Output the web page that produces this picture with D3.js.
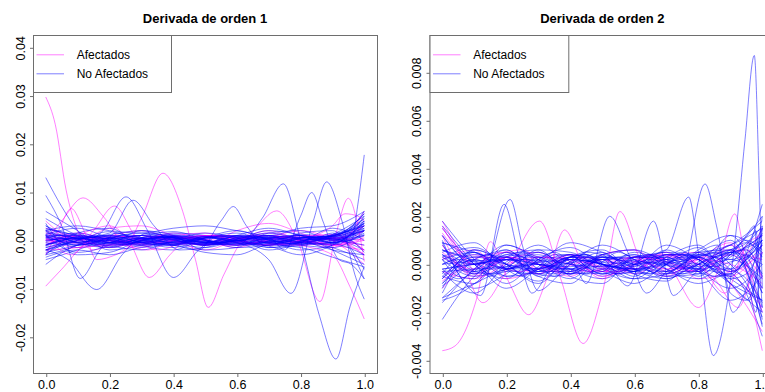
<!DOCTYPE html>
<html>
<head>
<meta charset="utf-8">
<script src="https://cdn.jsdelivr.net/npm/d3@7"></script>
<style>
  body { margin: 0; background: #fff; }
  svg { display: block; font-family: "Liberation Sans", Arial, Helvetica, sans-serif; }
</style>
</head>
<body>
<svg id="chart" width="765" height="392"></svg>
<script>
// ---------------------------------------------------------------
// Data: first and second derivatives of each subject's curve.
// Values are stored in thousandths (x 1e-3) to keep them short.
// ---------------------------------------------------------------
const SCALE = 1e-3;
const gridT = [0, 0.1, 0.2, 0.3, 0.4, 0.5, 0.6, 0.7, 0.8, 0.9, 1.0];
const gridFine = [0, 0.05, 0.1, 0.15, 0.2, 0.25, 0.3, 0.35, 0.4, 0.45, 0.5,
                  0.55, 0.6, 0.65, 0.7, 0.75, 0.8, 0.85, 0.9, 0.95, 1.0];

const legendLabels = ["Afectados", "No Afectados"];
const panelTitles = ["Derivada de orden 1", "Derivada de orden 2"];
const xTicks = [0, 0.2, 0.4, 0.6, 0.8, 1.0];
const yTicks1 = [-0.02, -0.01, 0.00, 0.01, 0.02, 0.03, 0.04];
const yTicks2 = [-0.004, -0.002, 0.000, 0.002, 0.004, 0.006, 0.008];

// ---- order 1: affected, sampled on gridT ----
const d1AfGrid = [
  [1.0, -0.5, 0.5, 1.0, -0.3, -0.8, 0.4, 1.0, 0.0, -1.0, 0.5],
  [-1.0, 1.5, 0.0, -1.5, 0.8, 1.5, -0.5, -1.0, 0.8, 1.2, -2.0],
  [2.5, 0.5, -1.5, 0.0, 1.5, 0.0, -1.5, 0.5, 2.0, 0.0, -5.0],
  [-2.0, -1.5, 0.8, 2.0, 0.0, -2.0, 0.0, 1.5, 0.0, -1.5, 6.0],
  [0.0, 0.3, -0.3, 0.2, 0.5, 0.2, -0.2, 0.3, -0.5, 0.3, -3.0],
  [4.0, 0.0, 2.5, 3.0, 1.0, -1.0, 2.0, 3.5, 1.5, -1.0, 2.0]
];
// ---- order 1: affected, sampled on gridFine ----
const d1AfFine = [
  [-0.5,0.5,1.0,0.3,-0.6,-0.8,0.0,0.7,0.5,-0.3,-0.6,0.0,0.6,0.4,-0.4,-0.7,-0.2,0.5,0.6,0.0,-2.0],
  [1.5,0.3,-0.8,-0.5,0.4,0.8,0.2,-0.5,-0.6,0.2,0.7,0.3,-0.4,-0.6,0.2,0.8,0.4,-0.4,-0.8,-1.0,1.0],
  [0.2,-0.4,-0.2,0.5,0.6,-0.2,-0.7,-0.2,0.5,0.6,0.0,-0.6,-0.3,0.4,0.5,0.0,-0.4,0.2,0.8,1.5,3.0]
];
// ---- order 1: affected, [t, value] knots ----
const d1AfKnots = [
  [[0,29.7],[0.03,24],[0.064,10.4],[0.1,2],[0.15,-2],[0.2,-1],[0.3,1],[0.4,0],[0.5,-1],[0.6,0.5],[0.7,1],[0.8,0],[0.9,-1],[1,-2]],
  [[0,0.5],[0.1,-1.5],[0.2,-1],[0.25,-1],[0.3,4.5],[0.368,13.9],[0.43,6],[0.47,-4],[0.51,-13.9],[0.56,-7],[0.62,0],[0.7,2],[0.8,0],[0.9,-1],[1,0]],
  [[0,-1],[0.1,0.5],[0.2,0],[0.3,-0.5],[0.4,0.5],[0.5,0],[0.58,-1],[0.65,2],[0.725,6.1],[0.79,0],[0.861,-12.7],[0.91,1],[0.95,8.7],[0.98,3],[1,-4.4]],
  [[0,-2],[0.1,1],[0.2,3],[0.26,0],[0.325,-7.7],[0.39,-3],[0.45,0.5],[0.55,1],[0.65,-0.5],[0.75,0],[0.85,1],[0.95,-1],[1,-3]],
  [[0,-9.5],[0.05,-6],[0.12,-1],[0.2,1],[0.3,0],[0.4,-1],[0.5,0.5],[0.6,1],[0.7,-0.5],[0.8,-1],[0.9,0],[1,2]],
  [[0,0],[0.05,4],[0.117,8.8],[0.18,5],[0.25,-1],[0.32,-2],[0.4,0],[0.5,1],[0.6,0],[0.7,-1],[0.8,0],[0.9,0.5],[1,0]],
  [[0,-3],[0.04,2],[0.08,6.6],[0.12,2],[0.16,-4],[0.22,-3],[0.3,0],[0.4,1],[0.5,-0.5],[0.6,-1],[0.7,0],[0.8,1],[0.9,0],[1,-1]],
  [[0,1],[0.08,-3],[0.15,2],[0.216,7.1],[0.28,1],[0.35,-2],[0.45,0],[0.55,1],[0.65,0],[0.75,-1],[0.85,0],[0.95,1],[1,3]],
  [[0,2],[0.1,0],[0.2,-1],[0.3,0.5],[0.4,0],[0.5,-1],[0.6,0],[0.7,1],[0.8,-1],[0.9,-3],[0.955,-9.6],[1,-16.3]],
  [[0,0],[0.1,1],[0.2,0],[0.3,-1],[0.4,0],[0.5,1],[0.6,0],[0.7,-1],[0.8,0],[0.9,3],[0.94,5.5],[0.98,5],[1,4]]
];

// ---- order 1: not affected ----
const d1NoGrid = [
  [1.5, 0.5, -0.5, 0.3, 0.8, -0.2, -0.6, 0.4, 0.9, 0.2, 3.5],
  [-1.0, 0.8, 0.2, -0.6, 0.1, 0.7, 0.0, -0.8, 0.3, 1.0, 4.5],
  [3.0, -0.5, -1.5, 0.5, 1.2, 0.2, -1.0, 0.5, 0.6, -0.5, 2.0],
  [-2.5, -1.0, 1.0, 0.5, -0.8, -0.5, 0.8, 1.0, -0.3, 0.5, 5.5],
  [0.5, 1.5, 0.0, -1.2, -0.2, 1.0, 0.4, -1.5, -1.0, 1.0, 3.0],
  [4.5, 1.0, -1.0, -0.5, 0.8, 0.0, -0.8, 0.0, 1.2, 0.5, -2.0],
  [-4.0, -2.0, 0.5, 1.5, 0.0, -1.0, 0.2, 1.5, 0.3, -1.5, -4.0],
  [2.0, -1.5, -0.5, 1.0, -0.5, -1.5, 0.0, 0.8, -0.8, -0.3, 6.0],
  [-1.5, 0.0, 1.8, -0.3, -1.5, 0.5, 1.5, -0.5, -1.2, 1.5, -6.0],
  [6.0, 2.0, -2.0, -1.0, 1.5, 1.0, -1.0, -1.0, 1.5, 2.0, -8.0],
  [-3.0, 1.5, 2.5, -1.0, -2.0, 0.5, 2.0, 0.0, -2.0, -1.0, 3.5],
  [1.0, -2.5, -1.0, 2.0, 1.0, -2.0, -1.5, 1.5, 2.0, 0.0, 2.5],
  [-5.0, -1.0, 0.0, -0.5, 0.5, 1.0, 0.5, -0.3, 0.0, 0.8, 4.0],
  [0.0, 0.5, -0.8, 0.2, 0.6, -0.4, 0.3, 0.6, -0.4, -0.8, 1.5],
  [2.5, 1.0, 0.3, 0.0, -0.3, 0.3, 1.0, 0.5, -0.5, 1.2, 5.0],
  [-2.0, -0.5, -1.2, -2.0, 0.0, 1.5, 0.5, -2.0, -0.5, 2.5, 0.0],
  [1.2, 2.5, 0.5, -1.0, -0.5, -1.0, 0.2, 2.0, 1.0, -2.0, -5.0],
  [-0.5, -1.0, 0.3, 1.0, 1.8, 0.2, -1.5, -1.0, 0.5, 0.5, 2.0],
  [3.5, -3.0, -2.5, 0.0, 0.8, -0.5, -0.3, -1.2, -3.0, -1.0, 3.0],
  [0.8, 0.2, 1.2, 2.0, 0.5, -0.5, 1.0, 2.5, 1.0, -0.5, 4.0],
  [-1.2, 0.4, -0.2, -0.8, -0.4, -0.2, -0.6, -0.3, 0.2, 0.0, -1.0],
  [1.0, 1.0, 0.6, 0.4, 0.1, -0.2, -0.1, 0.3, 0.5, 0.8, 2.5],
  [-3.5, -2.0, -3.0, -1.5, -1.0, -2.5, -3.0, -1.0, -1.5, -3.5, -5.5],
  [2.0, 3.0, 2.0, 1.5, 2.5, 3.0, 2.0, 1.0, 2.5, 3.0, 6.0]
];
const d1NoFine = [
  [0.5,1.0,0.2,-0.8,-0.5,0.6,1.0,0.2,-0.7,-0.4,0.5,0.9,0.1,-0.8,-0.6,0.4,1.0,0.3,-0.5,0.5,3.0],
  [-0.8,-0.2,0.8,0.6,-0.4,-0.9,0.0,0.8,0.4,-0.6,-0.7,0.3,0.9,0.2,-0.6,-0.5,0.4,0.8,0.2,1.0,4.0],
  [1.8,0.6,-0.6,-1.0,0.2,1.2,0.6,-0.6,-1.0,0.0,0.8,0.4,-0.5,-0.8,0.3,0.9,0.2,-0.7,-0.4,0.8,2.2],
  [-2.0,-1.2,0.0,1.0,0.8,-0.3,-1.0,-0.2,0.8,0.9,0.0,-0.9,-0.5,0.6,1.0,0.1,-0.8,-0.4,0.7,1.5,5.0],
  [0.0,0.3,-0.3,-0.2,0.4,0.3,-0.3,-0.4,0.2,0.5,0.0,-0.4,-0.1,0.4,0.2,-0.3,-0.2,0.3,0.4,0.2,1.2],
  [3.0,1.5,0.2,-0.5,-1.2,-0.6,0.5,1.2,0.6,-0.4,-1.0,-0.4,0.6,1.0,0.2,-0.6,-0.8,0.0,0.9,1.8,3.5],
  [-0.3,0.6,1.2,0.4,-0.6,-1.0,-0.2,0.6,1.0,0.4,-0.4,-0.8,-0.2,0.5,0.8,0.3,-0.5,-0.9,-0.6,0.0,-2.5],
  [1.2,0.4,-0.4,0.2,0.9,0.5,-0.5,-0.9,-0.3,0.5,0.8,0.2,-0.6,-0.9,-0.2,0.6,1.0,0.4,-0.4,-0.2,2.0],
  [-1.5,-0.6,0.4,0.6,0.0,-0.6,-0.4,0.4,0.7,0.1,-0.6,-0.5,0.3,0.8,0.3,-0.5,-0.6,0.2,0.9,2.0,4.5],
  [0.8,-0.3,-1.0,-0.4,0.6,1.0,0.3,-0.6,-0.8,0.0,0.7,0.6,-0.2,-0.7,-0.3,0.4,0.6,0.0,-0.6,-1.5,-3.0],
  [-2.8,-1.0,0.3,0.8,0.2,-0.4,-0.2,0.5,0.6,-0.2,-0.8,-0.3,0.5,0.7,0.0,-0.7,-0.4,0.5,1.2,2.4,5.5],
  [2.2,1.8,0.8,-0.2,-0.8,-0.4,0.4,0.8,0.2,-0.6,-0.6,0.2,0.8,0.4,-0.4,-0.8,-0.2,0.6,0.8,0.5,1.0]
];
const d1NoKnots = [
  [[0,13],[0.05,7],[0.1,2],[0.15,-1],[0.2,-1.5],[0.3,0],[0.4,1],[0.5,0],[0.6,-1],[0.7,0.5],[0.8,1],[0.9,0],[1,2]],
  [[0,9.3],[0.05,3],[0.108,-7.9],[0.17,-2],[0.22,1.5],[0.3,0],[0.4,-1],[0.5,0.5],[0.6,0],[0.7,-1],[0.8,0.5],[0.9,1],[1,3]],
  [[0,-2],[0.07,-4],[0.16,-10.2],[0.24,-3],[0.32,1.5],[0.4,0.5],[0.5,-1],[0.6,0],[0.7,1],[0.8,0],[0.9,-2],[1,-3]],
  [[0,-3],[0.1,-1],[0.18,2],[0.252,9.0],[0.32,2],[0.401,-7.7],[0.48,-2],[0.55,1],[0.65,0],[0.75,-1],[0.85,0.5],[0.95,0],[1,1]],
  [[0,2],[0.1,0.5],[0.2,1.5],[0.274,8.3],[0.34,3],[0.42,-2],[0.5,-1.5],[0.6,0],[0.7,-0.5],[0.8,0.5],[0.9,1],[1,3.5]],
  [[0,-1],[0.1,0.5],[0.2,-0.5],[0.3,0.5],[0.4,-1],[0.48,-2],[0.55,4],[0.589,7.0],[0.63,3],[0.7,-1.5],[0.8,-0.5],[0.9,0.5],[1,2]],
  [[0,0.5],[0.1,-0.5],[0.2,0.5],[0.3,-0.5],[0.4,0.5],[0.5,-0.5],[0.6,-1],[0.68,4.6],[0.746,11.7],[0.8,0],[0.86,-15.8],[0.911,-24.6],[0.955,-13.8],[1,-5.5]],
  [[0,-1],[0.1,0.5],[0.2,-0.5],[0.3,0.5],[0.4,-0.5],[0.5,0.5],[0.6,-0.5],[0.7,-4],[0.77,-11],[0.84,4],[0.882,12.1],[0.93,4],[0.97,-7],[1,-12.2]],
  [[0,1],[0.1,-1],[0.2,0],[0.3,1],[0.4,0],[0.5,-1],[0.6,0],[0.7,0.5],[0.75,-2],[0.8,5],[0.835,9.9],[0.87,4],[0.92,-4],[0.96,-5],[1,-8]],
  [[0,-2],[0.1,0],[0.2,1],[0.3,-0.5],[0.4,-1],[0.5,0.5],[0.6,1],[0.7,0],[0.8,-1],[0.9,-1.5],[0.96,0],[0.98,7.5],[1,17.7]]
];

// ---- order 2: affected ----
const d2AfGrid = [
  [-0.6, 0.4, -0.2, 0.3, 0.0, -0.3, 0.3, 0.1, -0.3, 0.4, -1.0],
  [0.8, -0.5, 0.3, -0.4, 0.3, 0.2, -0.4, 0.3, 0.5, -0.5, 0.8],
  [-1.0, 0.2, 0.5, 0.0, -0.5, 0.2, 0.1, -0.4, 0.2, 0.9, -2.0],
  [0.2, 0.6, -0.6, -0.2, 0.4, -0.2, -0.2, 0.5, -0.6, -0.3, 1.5],
  [1.6, 0.0, 0.2, 0.5, -0.3, 0.4, 0.6, -0.2, 0.0, 0.6, -0.5],
  [-0.3, -0.6, 0.0, 0.3, 0.2, -0.5, 0.0, 0.4, 0.3, -0.8, -2.8]
];
const d2AfFine = [
  [0.5,0.0,-0.4,-0.1,0.3,0.2,-0.2,-0.3,0.1,0.3,0.0,-0.3,-0.1,0.3,0.2,-0.2,-0.3,0.1,0.5,0.6,-0.6],
  [-0.7,-0.2,0.3,0.3,-0.2,-0.3,0.1,0.4,0.1,-0.3,-0.2,0.2,0.3,0.0,-0.3,-0.1,0.3,0.3,-0.3,-1.0,-1.8],
  [1.3,0.5,0.0,0.3,0.2,-0.2,-0.4,0.0,0.4,0.2,-0.3,-0.3,0.1,0.4,0.1,-0.3,-0.2,0.4,0.8,0.4,0.2]
];
const d2AfKnots = [
  [[0,-3.6],[0.04,-3.4],[0.106,-1.5],[0.15,0.94],[0.21,-0.8],[0.27,-2.1],[0.33,-0.5],[0.382,1.43],[0.44,0.0],[0.5,-0.6],[0.6,0.2],[0.7,-0.2],[0.8,0.2],[0.9,-0.3],[1,0.5]],
  [[0,1.8],[0.05,0.6],[0.127,-1.6],[0.2,-0.3],[0.304,1.8],[0.37,-0.6],[0.44,-3.3],[0.5,-1.2],[0.555,2.2],[0.62,0.2],[0.7,-0.5],[0.8,0.2],[0.9,0.0],[1,-0.8]],
  [[0,0.3],[0.1,-0.2],[0.2,0.3],[0.3,-0.2],[0.4,0.2],[0.5,-0.1],[0.6,0.3],[0.7,0.0],[0.8,-1.8],[0.86,-0.3],[0.914,2.1],[0.96,-1.1],[1,-3.6]],
  [[0,1.5],[0.06,0.5],[0.12,-0.5],[0.2,0.3],[0.3,0.0],[0.4,-0.4],[0.5,0.2],[0.6,-0.2],[0.7,0.3],[0.8,0.0],[0.883,-1.2],[0.95,0.8],[1,1.2]],
  [[0,1.2],[0.08,-0.3],[0.15,0.3],[0.25,0.6],[0.35,-0.2],[0.45,0.1],[0.55,-0.4],[0.65,0.4],[0.75,0.3],[0.85,-0.6],[0.925,-1.8],[0.97,-0.4],[1,0.5]]
];

// ---- order 2: not affected ----
const d2NoGrid = [
  [0.8, -0.3, 0.2, 0.4, -0.2, -0.3, 0.3, 0.2, -0.4, 0.3, 1.2],
  [-1.2, 0.5, -0.3, -0.2, 0.4, 0.1, -0.3, 0.4, 0.3, -0.6, -1.5],
  [1.5, 0.0, -0.6, 0.3, 0.2, -0.5, 0.1, 0.5, -0.2, 0.8, -2.5],
  [-0.5, -0.8, 0.5, 0.0, -0.6, 0.4, 0.6, -0.5, -0.4, 1.2, 0.5],
  [0.3, 0.7, 0.0, -0.7, 0.3, 0.6, -0.4, -0.7, 0.5, 0.6, -1.0],
  [-1.6, -0.2, 0.8, 0.2, -0.4, -0.2, 0.5, 0.2, 0.7, -0.3, 1.5],
  [1.0, -1.0, -0.4, 0.6, 0.5, -0.2, -0.6, 0.3, 0.8, -0.8, -2.0],
  [0.0, 0.4, 0.3, -0.5, -0.8, 0.3, 0.2, -0.3, -0.6, 0.4, 2.0],
  [-0.8, 0.0, -0.8, 0.2, 0.7, 0.0, -0.2, 0.6, -0.2, -1.0, 0.0],
  [0.5, 0.9, -0.2, -0.4, 0.1, 0.8, 0.2, -0.6, 0.1, 1.0, -1.8],
  [-2.3, -0.5, 0.3, 0.5, -0.2, -0.6, 0.0, 0.4, 0.4, 0.2, 1.0],
  [1.8, 0.2, -1.0, -0.2, 0.4, 0.2, 0.4, -0.2, -0.8, -0.4, -3.0],
  [-0.3, -1.2, 0.0, 0.8, 0.0, -0.4, -0.3, 0.0, 0.3, 0.8, 1.8],
  [0.6, 0.3, 0.6, -0.3, -0.3, 0.4, 0.6, 0.1, -0.3, -1.5, -0.5],
  [-1.0, 0.6, 0.0, -0.8, 0.2, 0.0, -0.6, -0.4, 0.6, 1.2, -1.2],
  [0.2, -0.5, -0.2, 0.1, 0.9, 0.5, -0.1, 0.8, 0.2, -0.5, 2.5],
  [1.2, 0.0, 0.4, 0.6, -0.5, -0.8, 0.3, 0.3, -0.5, 0.5, 0.0],
  [-0.6, 0.2, -0.5, -0.3, 0.3, 0.3, 0.0, -0.5, 0.0, 0.6, -2.0],
  [0.4, -0.4, 0.8, 0.3, 0.0, -0.3, -0.8, 0.0, 0.5, -0.2, 1.0],
  [-1.4, -0.8, -0.2, 0.0, -0.4, 0.2, 0.3, 0.5, 0.2, -0.8, -1.5],
  [0.9, 0.5, 0.0, -0.2, 0.3, 0.0, -0.2, -0.3, 0.4, 0.8, 1.5],
  [-0.2, 0.0, 0.2, 0.0, -0.1, 0.1, 0.0, 0.1, -0.1, 0.2, -0.6]
];
const d2NoFine = [
  [0.6,0.2,-0.3,-0.4,0.1,0.4,0.2,-0.3,-0.4,0.1,0.4,0.2,-0.2,-0.4,0.0,0.4,0.3,-0.2,-0.4,0.2,1.0],
  [-0.9,-0.4,0.2,0.4,0.0,-0.4,-0.2,0.3,0.4,-0.1,-0.4,-0.1,0.3,0.3,-0.2,-0.4,0.0,0.4,0.5,0.0,-1.2],
  [1.2,0.4,-0.2,0.2,0.5,0.0,-0.5,-0.2,0.3,0.4,-0.1,-0.4,0.0,0.4,0.2,-0.3,-0.3,0.2,0.6,0.9,0.3],
  [-0.4,0.3,0.5,0.0,-0.5,-0.3,0.2,0.5,0.1,-0.4,-0.3,0.2,0.4,0.0,-0.4,-0.2,0.3,0.5,0.0,-0.8,-2.2],
  [0.2,-0.5,-0.6,0.0,0.4,0.3,-0.2,-0.4,0.0,0.3,0.3,-0.1,-0.3,0.1,0.4,0.2,-0.3,-0.5,0.0,0.8,1.6],
  [-1.4,-0.8,-0.2,0.3,0.3,-0.1,-0.4,-0.1,0.3,0.4,0.0,-0.4,-0.3,0.2,0.3,0.0,-0.3,0.0,0.5,1.0,0.6],
  [0.9,0.6,0.0,-0.4,-0.3,0.2,0.5,0.2,-0.3,-0.4,0.1,0.5,0.2,-0.3,-0.4,0.0,0.4,0.3,-0.2,-0.6,-1.6],
  [0.0,0.2,0.1,-0.2,-0.1,0.2,0.1,-0.2,-0.2,0.1,0.2,0.0,-0.2,-0.1,0.1,0.2,0.0,-0.1,0.1,0.3,0.8],
  [-0.2,-0.6,-0.3,0.3,0.6,0.2,-0.4,-0.5,0.0,0.5,0.4,-0.2,-0.5,-0.1,0.4,0.4,-0.1,-0.5,-0.4,0.2,1.3],
  [1.6,0.8,0.0,-0.5,-0.2,0.3,0.3,-0.1,-0.4,-0.1,0.3,0.3,-0.2,-0.4,0.0,0.3,0.2,-0.2,-0.2,0.4,-0.4],
  [-0.6,0.1,0.6,0.4,-0.2,-0.5,-0.1,0.4,0.4,-0.1,-0.4,-0.2,0.3,0.4,0.0,-0.4,-0.2,0.3,0.4,-0.3,-2.6],
  [0.4,0.0,-0.4,-0.2,0.3,0.5,0.0,-0.5,-0.3,0.3,0.5,0.1,-0.4,-0.3,0.2,0.5,0.2,-0.3,-0.6,-0.4,0.9]
];
const d2NoKnots = [
  [[0,0.3],[0.1,-0.3],[0.2,0.2],[0.3,-0.2],[0.4,0.3],[0.5,-0.2],[0.6,0.2],[0.7,0.6],[0.77,2.8],[0.8,0.5],[0.847,-3.8],[0.888,-1.8],[0.915,1.0],[0.946,5.2],[0.975,8.7],[0.99,3.5],[1,-1.0]],
  [[0,-0.5],[0.1,0.3],[0.2,0.0],[0.3,-0.3],[0.4,0.2],[0.5,0.0],[0.6,-0.3],[0.7,-0.6],[0.75,-0.3],[0.821,3.35],[0.857,1.6],[0.9,-1.2],[0.95,-1.5],[1,0.5]],
  [[0,-1.5],[0.08,-1.0],[0.14,-0.2],[0.212,2.7],[0.25,0.8],[0.3,-1.1],[0.36,-0.5],[0.42,0.3],[0.5,0.0],[0.6,-0.3],[0.7,0.2],[0.8,0.0],[0.9,0.4],[1,1.0]],
  [[0,0.9],[0.06,-0.6],[0.12,-1.3],[0.193,2.5],[0.24,0.3],[0.28,-1.2],[0.35,0.0],[0.45,0.4],[0.55,-0.3],[0.65,0.2],[0.75,-0.2],[0.85,0.3],[0.95,0.6],[1,-0.5]],
  [[0,0.4],[0.1,0.0],[0.2,0.3],[0.3,-0.3],[0.4,0.2],[0.45,-0.8],[0.523,2.0],[0.58,0.5],[0.639,-1.2],[0.7,-0.3],[0.8,0.3],[0.9,-0.3],[1,0.8]],
  [[0,-0.8],[0.1,0.2],[0.2,-0.2],[0.3,0.2],[0.4,-0.3],[0.5,0.2],[0.58,-0.9],[0.66,1.8],[0.722,-1.3],[0.78,-0.5],[0.85,0.3],[0.93,0.6],[1,1.2]],
  [[0,0.2],[0.1,0.5],[0.2,-0.2],[0.3,0.0],[0.4,-0.2],[0.5,0.3],[0.6,0.0],[0.7,-0.3],[0.8,0.5],[0.86,0.8],[0.908,-2.0],[0.95,-1.0],[1,1.5]],
  [[0,0],[0.2,0.2],[0.4,-0.2],[0.6,0.1],[0.8,-0.2],[0.9,0.4],[0.95,1.2],[0.975,1.6],[0.99,-1.5],[1,-2.3]],
  [[0,-0.3],[0.2,-0.1],[0.4,0.2],[0.6,-0.2],[0.8,0.3],[0.9,-0.8],[0.96,-1.5],[0.98,-0.5],[0.99,1.0],[1,2.0]],
  [[0,-0.2],[0.25,0.2],[0.5,-0.1],[0.75,0.3],[0.9,0.6],[0.96,1.0],[0.98,1.4],[0.99,0.0],[1,-1.8]],
  [[0,0.6],[0.25,-0.2],[0.5,0.2],[0.75,-0.1],[0.9,-0.5],[0.96,-1.2],[0.98,-2.0],[0.99,-0.5],[1,1.6]]
];

// ---------------------------------------------------------------
// Layout
// ---------------------------------------------------------------
const COL_AF = "#ff00ff";
const COL_NO = "#0000ff";
const LINE_OPACITY = 0.5;
const AXIS_COL = "#6e6e6e";

function onGrid(grid) {
  return vals => vals.map((v, i) => [grid[i], v]);
}

const panels = [
  {
    title: panelTitles[0],
    box: { x0: 33, x1: 377, y0: 35, y1: 373 },
    yDomain: [-0.0275, 0.04255],
    yTicks: yTicks1, yFmt: d => d.toFixed(2),
    af: [...d1AfGrid.map(onGrid(gridT)), ...d1AfFine.map(onGrid(gridFine)), ...d1AfKnots],
    no: [...d1NoGrid.map(onGrid(gridT)), ...d1NoFine.map(onGrid(gridFine)), ...d1NoKnots],
    legendW: 138
  },
  {
    title: panelTitles[1],
    box: { x0: 429.5, x1: 775.1, y0: 35, y1: 373 },
    yDomain: [-0.004529, 0.009554],
    yTicks: yTicks2, yFmt: d => d.toFixed(3),
    af: [...d2AfGrid.map(onGrid(gridT)), ...d2AfFine.map(onGrid(gridFine)), ...d2AfKnots],
    no: [...d2NoGrid.map(onGrid(gridT)), ...d2NoFine.map(onGrid(gridFine)), ...d2NoKnots],
    legendW: 138.8
  }
];

const svg = d3.select("#chart");
svg.append("rect").attr("width", 765).attr("height", 392).attr("fill", "#fff");

panels.forEach((p, pi) => {
  const b = p.box;
  const x = d3.scaleLinear().domain([-0.04, 1.04]).range([b.x0, b.x1]);
  const y = d3.scaleLinear().domain(p.yDomain).range([b.y1, b.y0]);
  const g = svg.append("g");

  const clipId = "clip" + pi;
  g.append("clipPath").attr("id", clipId)
    .append("rect").attr("x", b.x0).attr("y", b.y0)
    .attr("width", b.x1 - b.x0).attr("height", b.y1 - b.y0);

  const line = d3.line()
    .x(d => x(d[0]))
    .y(d => y(d[1] * SCALE))
    .curve(d3.curveMonotoneX);

  const curves = g.append("g").attr("clip-path", `url(#${clipId})`)
    .attr("fill", "none").attr("stroke-width", 1);

  // interleave the two groups so neither colour sits entirely on top
  const drawList = [];
  const nMax = Math.max(p.af.length, p.no.length);
  for (let i = 0; i < nMax; i++) {
    if (i < p.no.length) drawList.push({ c: COL_NO, k: p.no[i] });
    if (i < p.af.length) drawList.push({ c: COL_AF, k: p.af[i] });
  }
  curves.selectAll("path").data(drawList).join("path")
    .attr("d", d => line(d.k))
    .attr("stroke", d => d.c)
    .attr("stroke-opacity", LINE_OPACITY);

  // plot frame
  g.append("rect")
    .attr("x", b.x0 + 0.5).attr("y", b.y0 + 0.5)
    .attr("width", b.x1 - b.x0).attr("height", b.y1 - b.y0)
    .attr("fill", "none").attr("stroke", AXIS_COL).attr("stroke-width", 1);

  // x axis
  const xAxis = d3.axisBottom(x).tickValues(xTicks).tickFormat(d => d.toFixed(1))
    .tickSizeInner(3.5).tickSizeOuter(0).tickPadding(3);
  const gx = g.append("g").attr("transform", `translate(0.5,${b.y1 + 0.5})`).call(xAxis);
  gx.select(".domain").remove();
  gx.selectAll("line").attr("stroke", AXIS_COL);
  gx.selectAll("text").attr("fill", "#000").attr("font-size", 12.5)
    .attr("font-family", "Liberation Sans, Arial, sans-serif");

  // y axis with labels turned parallel to the axis
  const yAxis = d3.axisLeft(y).tickValues(p.yTicks).tickFormat(p.yFmt)
    .tickSizeInner(3.5).tickSizeOuter(0).tickPadding(0);
  const gy = g.append("g").attr("transform", `translate(${b.x0 + 0.5},0.5)`).call(yAxis);
  gy.select(".domain").remove();
  gy.selectAll("line").attr("stroke", AXIS_COL);
  gy.selectAll("text")
    .attr("fill", "#000").attr("font-size", 12.5)
    .attr("font-family", "Liberation Sans, Arial, sans-serif")
    .attr("text-anchor", "middle").attr("dy", null).attr("x", null)
    .attr("transform", "translate(-9,0) rotate(-90)");

  // title
  g.append("text")
    .attr("x", (b.x0 + b.x1) / 2).attr("y", 23)
    .attr("text-anchor", "middle").attr("font-weight", "bold")
    .attr("font-size", 13).attr("fill", "#000")
    .text(p.title);

  // legend
  const lg = g.append("g");
  lg.append("rect")
    .attr("x", b.x0 + 0.5).attr("y", b.y0 + 0.5)
    .attr("width", p.legendW).attr("height", 57)
    .attr("fill", "#fff").attr("stroke", AXIS_COL).attr("stroke-width", 1);
  const entries = [{ t: legendLabels[0], c: COL_AF }, { t: legendLabels[1], c: COL_NO }];
  entries.forEach((e, i) => {
    const yy = b.y0 + 19.3 + i * 19;
    lg.append("line")
      .attr("x1", b.x0 + 3.5).attr("x2", b.x0 + 31)
      .attr("y1", yy + 0.5).attr("y2", yy + 0.5)
      .attr("stroke", e.c).attr("stroke-opacity", LINE_OPACITY);
    lg.append("text")
      .attr("x", b.x0 + 43.7).attr("y", yy + 4.3)
      .attr("font-size", 12).attr("fill", "#000")
      .text(e.t);
  });
});
</script>
</body>
</html>
